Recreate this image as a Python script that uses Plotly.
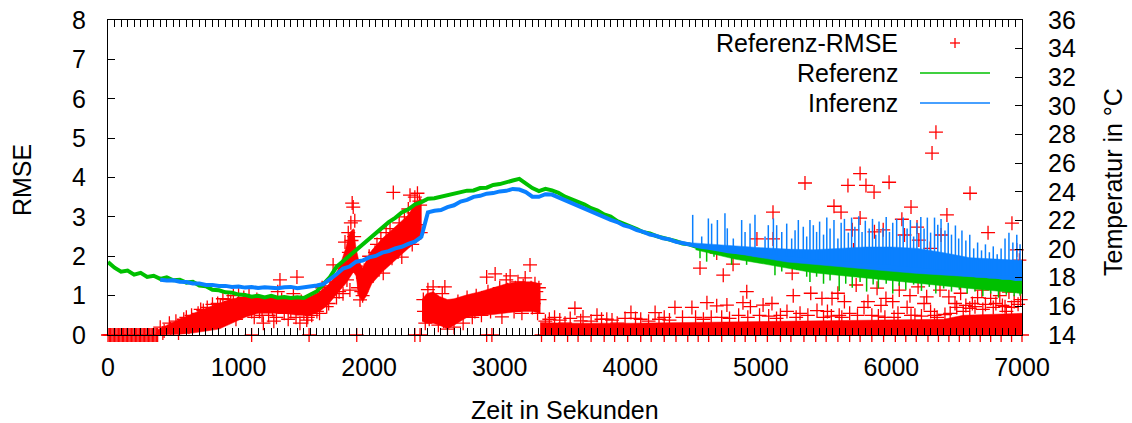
import plotly.graph_objects as go

# ---------------- data ----------------
# Referenz temperature (green), sampled every 50 s, degC
ref_time = list(range(0, 7001, 50))
ref_temp = [19.10, 18.70, 18.42, 18.50, 18.22, 18.34, 18.06, 18.14, 17.92, 18.02,
            17.82, 17.86, 17.66, 17.72, 17.46, 17.40, 17.16, 17.12, 16.98, 16.96,
            16.82, 16.80, 16.68, 16.74, 16.63, 16.74, 16.60, 16.66, 16.58, 16.63,
            16.58, 16.84, 17.06, 17.55, 18.05, 18.76, 19.15, 19.60, 19.98, 20.30,
            20.72, 21.14, 21.46, 21.88, 22.18, 22.56, 22.78, 23.12, 23.28, 23.52,
            23.55, 23.66, 23.74, 23.88, 23.94, 24.08, 24.10, 24.26, 24.29, 24.48,
            24.54, 24.70, 24.79, 24.90, 24.57, 24.26, 24.05, 24.21, 24.10, 23.93,
            23.66, 23.49, 23.25, 23.11, 22.86, 22.69, 22.42, 22.28, 21.96, 21.79,
            21.57, 21.40, 21.18, 21.10, 20.91, 20.80, 20.64, 20.55, 20.39, 20.33,
            20.17, 20.11, 19.95, 19.86, 19.70, 19.67, 19.54, 19.53, 19.37, 19.34,
            19.21, 19.20, 19.07, 19.04, 18.90, 18.90, 18.77, 18.76, 18.66, 18.65,
            18.55, 18.54, 18.44, 18.43, 18.33, 18.35, 18.24, 18.27, 18.16, 18.18,
            18.11, 18.10, 18.00, 18.02, 17.91, 17.91, 17.80, 17.80, 17.69, 17.69,
            17.61, 17.61, 17.50, 17.52, 17.42, 17.41, 17.31, 17.33, 17.23, 17.22,
            17.14]

# Referenz noisy band in the late part (degC)
ref_noise_t = [4500, 4800, 5000, 5400, 5800, 6200, 6600, 7000]
ref_noise_lo = [19.95, 19.30, 19.00, 18.35, 17.95, 17.60, 17.25, 16.90]
ref_noise_hi = [20.30, 19.80, 19.50, 19.00, 18.70, 18.40, 18.10, 17.95]

# Inferenz temperature (blue), sampled every 50 s from 400 s, degC
inf_time = list(range(400, 7001, 50))
inf_temp = [17.86, 17.80, 17.82, 17.72, 17.70, 17.60, 17.60, 17.50, 17.49, 17.42,
            17.43, 17.36, 17.38, 17.31, 17.35, 17.28, 17.33, 17.30, 17.26, 17.34,
            17.36, 17.26, 17.32, 17.36, 17.46, 17.56, 17.88, 18.24, 18.64, 18.78,
            19.12, 19.20, 19.42, 19.52, 19.75, 19.86, 20.05, 20.16, 20.36, 20.52,
            20.85, 22.56, 22.68, 22.73, 22.93, 23.06, 23.32, 23.44, 23.65, 23.72,
            23.87, 23.91, 24.03, 24.07, 24.20, 24.16, 23.98, 23.66, 23.65, 23.83,
            23.81, 23.61, 23.48, 23.22, 23.07, 22.84, 22.66, 22.42, 22.27, 22.04,
            21.89, 21.65, 21.53, 21.32, 21.20, 21.02, 20.92, 20.75, 20.68, 20.50,
            20.43, 20.31, 20.26, 20.14, 20.10, 19.98, 19.93, 19.84, 19.82, 19.73,
            19.71, 19.62, 19.60, 19.51, 19.49, 19.40, 19.38, 19.29, 19.27, 19.18,
            19.16, 19.10, 19.08, 19.01, 19.03, 18.96, 18.97, 18.88, 18.89, 18.82,
            18.81, 18.74, 18.75, 18.66, 18.67, 18.57, 18.59, 18.49, 18.50, 18.41,
            18.42, 18.33, 18.34, 18.24, 18.26, 18.16, 18.17, 18.08, 18.09, 18.00,
            18.01, 17.91, 17.93]

# Inferenz dense (spike-filled) band in the late part (degC)
inf_dense_t = [4450, 4600, 4800, 5000, 5200, 5400, 5600, 5800, 6000, 6200, 6400, 6600, 6800, 7000]
inf_dense_lo = [20.25, 20.00, 19.70, 19.40, 19.10, 18.90, 18.75, 18.60, 18.45, 18.30, 18.15, 18.05, 17.95, 17.85]
inf_dense_hi = [20.45, 20.35, 20.20, 20.10, 20.00, 19.95, 20.05, 20.15, 20.15, 20.05, 19.75, 19.40, 19.30, 19.20]

# Inferenz upward spikes: time, foot, tip (degC)
inf_spike_t = [4478, 4547, 4598, 4623, 4667, 4725, 4743, 4789, 4853, 4879, 4917, 4955,
               5032, 5057, 5096, 5121, 5160, 5198, 5236, 5262, 5287, 5325, 5351, 5376,
               5402, 5427, 5450, 5480, 5505, 5530, 5560, 5590, 5615, 5640, 5670, 5695,
               5720, 5750, 5775, 5800, 5830, 5855, 5880, 5905, 5935, 5960, 5985, 6010,
               6040, 6065, 6090, 6120, 6145, 6170, 6195, 6225, 6250, 6275, 6300, 6330,
               6355, 6380, 6410, 6435, 6460, 6490, 6515, 6540, 6570, 6600, 6630, 6660,
               6690, 6720, 6750, 6780, 6810, 6840, 6870, 6900, 6930, 6960, 6985]
inf_spike_lo = [20.28, 20.16, 20.10, 20.05, 19.98, 19.90, 19.86, 19.82, 19.73, 19.71, 19.66, 19.62,
                19.52, 19.50, 19.49, 19.45, 19.40, 19.38, 19.31, 19.28, 19.27, 19.22, 19.18, 19.17,
                19.16, 19.12, 19.10, 19.09, 19.07, 19.04, 19.02, 19.02, 19.00, 18.97, 18.96, 18.97,
                18.92, 18.88, 18.89, 18.89, 18.85, 18.82, 18.81, 18.80, 18.76, 18.74, 18.75, 18.73,
                18.68, 18.66, 18.67, 18.62, 18.58, 18.58, 18.59, 18.54, 18.49, 18.50, 18.50, 18.45,
                18.41, 18.42, 18.42, 18.37, 18.33, 18.34, 18.29, 18.25, 18.25, 18.26, 18.20, 18.16,
                18.17, 18.12, 18.08, 18.09, 18.05, 18.01, 18.00, 18.01, 17.95, 17.92, 17.92]
inf_spike_hi = [22.39, 20.88, 22.14, 21.78, 22.03, 22.50, 21.45, 20.74, 22.03, 21.20, 21.78, 22.39,
                20.88, 21.67, 22.14, 21.67, 21.20, 21.78, 20.74, 21.32, 22.03, 21.56, 20.88, 22.03,
                21.67, 21.20, 21.92, 21.01, 22.20, 21.43, 22.03, 20.74, 21.84, 22.11, 21.15, 22.20,
                21.56, 22.30, 21.20, 21.98, 21.43, 22.11, 21.01, 21.92, 21.48, 22.25, 21.20, 21.84,
                22.11, 21.01, 22.20, 21.43, 22.03, 20.88, 21.84, 22.25, 21.43, 22.20, 21.15, 22.20,
                21.70, 22.11, 21.29, 21.84, 21.01, 21.65, 20.74, 21.29, 20.60, 21.01, 20.05, 20.46,
                19.91, 20.33, 19.78, 20.19, 19.64, 20.05, 20.74, 21.15, 20.46, 21.01, 20.33]

# Referenz downward spikes: time, top, tip (degC)
ref_spike_t = [4534, 4585, 4641, 4776, 4891, 4968, 5108, 5160, 5198, 5275, 5351, 5376, 5427,
               5480, 5530, 5600, 5650, 5700, 5760, 5810, 5860, 5900, 5960, 6010, 6060, 6110,
               6170, 6230, 6290, 6340, 6400, 6460, 6520, 6580, 6640, 6700, 6760, 6820, 6880,
               6940, 6985]
ref_spike_hi = [20.12, 19.99, 19.87, 19.62, 19.40, 19.29, 19.07, 19.00, 18.92, 18.85, 18.76, 18.72, 18.66,
                18.60, 18.55, 18.45, 18.42, 18.34, 18.30, 18.25, 18.25, 18.17, 18.15, 18.11, 18.08, 18.01,
                17.98, 17.91, 17.82, 17.79, 17.70, 17.67, 17.61, 17.56, 17.51, 17.42, 17.38, 17.32, 17.28,
                17.22, 17.16]
ref_spike_lo = [19.36, 19.12, 19.47, 18.90, 18.90, 19.12, 18.18, 18.43, 18.76, 18.54, 18.07, 17.71, 18.07,
                17.58, 17.80, 17.08, 17.58, 17.30, 17.71, 17.03, 17.52, 17.25, 17.58, 16.89, 17.44, 17.16,
                17.52, 17.08, 17.36, 16.89, 17.25, 17.03, 17.16, 16.89, 17.03, 16.70, 16.89, 16.61, 16.81,
                16.70, 16.75]

# Referenz-RMSE: dense cloud envelopes (three segments)
cloud1_t = [375, 450, 550, 650, 750, 850, 950, 1050, 1150, 1250, 1350, 1450, 1550, 1620, 1680,
            1730, 1780, 1820, 1850, 1880, 1900, 1920, 1950, 1980, 2020, 2100, 2200, 2300, 2360, 2400]
cloud1_lo = [0.0, 0.0, 0.02, 0.05, 0.10, 0.15, 0.30, 0.45, 0.55, 0.55, 0.55, 0.50, 0.50, 0.60, 0.75,
             0.95, 1.15, 1.30, 1.45, 1.60, 1.50, 1.00, 0.85, 1.00, 1.30, 1.60, 1.90, 2.20, 2.35, 2.45]
cloud1_hi = [0.12, 0.25, 0.40, 0.55, 0.68, 0.80, 0.92, 0.97, 0.98, 0.97, 0.98, 0.97, 0.98, 1.10, 1.25,
             1.45, 1.80, 2.20, 2.60, 2.70, 2.20, 1.90, 1.70, 1.90, 2.15, 2.45, 2.75, 3.05, 3.40, 3.45]
cloud2_t = [2405, 2440, 2490, 2540, 2600, 2650, 2750, 2850, 2950, 3050, 3150, 3250, 3310]
cloud2_lo = [0.35, 0.30, 0.30, 0.25, 0.15, 0.25, 0.45, 0.50, 0.52, 0.56, 0.60, 0.60, 0.55]
cloud2_hi = [0.90, 1.05, 1.10, 0.98, 0.90, 0.92, 1.02, 1.10, 1.20, 1.30, 1.35, 1.35, 1.30]
cloud3_t = [3310, 3500, 4000, 4500, 5000, 5500, 6000, 6400, 6550, 7000]
cloud3_lo = [0.0, 0.0, 0.0, 0.0, 0.0, 0.0, 0.0, 0.0, 0.0, 0.0]
cloud3_hi = [0.32, 0.30, 0.30, 0.32, 0.35, 0.36, 0.38, 0.40, 0.50, 0.55]

# Referenz-RMSE: individual points
rmse_t = [400, 430, 470, 520, 560, 600, 640, 690, 730, 760, 800, 840, 880, 920, 960, 1000, 1040, 1080,
          1120, 1160, 1190, 1230, 1270, 1300, 1317, 1350, 1380, 1420, 1447, 1470, 1500, 1522, 1560, 1600,
          1640, 1675, 1700, 1724, 1750, 1780, 1800, 1815, 1840, 1853, 1860, 1870, 1878, 1890, 1905, 1930,
          1950, 1960, 1985, 2000, 2030, 2060, 2090, 2108, 2130, 2160, 2185, 2200, 2230, 2250, 2270, 2300,
          2313, 2330, 2350, 2370, 2385, 2395,
          420, 480, 540, 580, 620, 660, 710, 770, 820, 860, 900, 940, 980, 1020, 1060, 1100, 1140, 1180,
          1210, 1260, 1290, 1330, 1400, 1440, 1480, 1530, 1580, 1620, 1660, 1690, 1740, 1770, 1790, 1830,
          1845, 1865, 1885, 1900, 1915, 1940, 1970, 2010, 2045, 2075, 2120, 2150, 2175, 2210, 2240, 2280,
          2320, 2340, 2360, 2390,
          2415, 2430, 2450, 2470, 2490, 2510, 2530, 2560, 2580, 2600, 2620, 2650, 2680, 2720, 2750, 2790,
          2820, 2860, 2900, 2930, 2965, 3000, 3017, 3050, 3080, 3110, 3140, 3170, 3195, 3232, 3250, 3270,
          3290, 3300,
          2420, 2460, 2500, 2540, 2570, 2610, 2640, 2700, 2740, 2780, 2810, 2840, 2880, 2910, 2950, 2980,
          3030, 3060, 3090, 3120, 3160, 3180, 3210, 3240, 3260, 3280, 3305,
          3350, 3380, 3420, 3460, 3500, 3540, 3576, 3620, 3638, 3700, 3745, 3780, 3820, 3860, 3900, 3960,
          4005, 4040, 4080, 4140, 4190, 4220, 4260, 4300, 4342, 4400, 4472, 4500, 4534, 4560, 4587, 4620,
          4662, 4662, 4700, 4712, 4740, 4760, 4787, 4830, 4863, 4892, 4900, 4920, 4970, 4990, 5017, 5060,
          5085, 5093, 5093, 5120, 5150, 5200, 5240, 5248, 5270, 5300, 5338, 5360, 5382, 5400, 5430, 5468,
          5480, 5510, 5540, 5545, 5560, 5590, 5600, 5614, 5620, 5640, 5667, 5680, 5700, 5710, 5730, 5740,
          5760, 5760, 5790, 5805, 5820, 5850, 5867, 5870, 5890, 5900, 5920, 5937, 5950, 5958, 5982, 6000,
          6010, 6020, 6050, 6060, 6080, 6100, 6120, 6142, 6150, 6150, 6180, 6196, 6204, 6210, 6230, 6250,
          6270, 6297, 6300, 6311, 6330, 6341, 6350, 6372, 6380, 6400, 6410, 6425, 6440, 6450, 6487, 6500,
          6530, 6550, 6570, 6600, 6602, 6620, 6640, 6660, 6693, 6700, 6720, 6740, 6760, 6780, 6800, 6830,
          6850, 6870, 6880, 6900, 6920, 6923, 6940, 6960, 6970, 6980, 6990]
rmse_v = [0.20, 0.10, 0.30, 0.35, 0.28, 0.45, 0.50, 0.55, 0.62, 0.70, 0.78, 0.80, 0.92, 0.90, 1.00, 1.05, 0.95, 1.00,
          0.45, 0.60, 0.30, 0.50, 0.35, 1.10, 1.40, 0.55, 0.40, 1.05, 1.47, 0.30, 0.55, 0.38, 0.50, 0.60,
          1.20, 0.72, 1.25, 1.78, 0.95, 1.50, 1.05, 2.36, 2.60, 1.14, 2.85, 3.35, 3.25, 2.90, 1.60, 0.89,
          1.00, 1.40, 1.75, 2.00, 1.50, 2.30, 2.45, 1.57, 2.60, 2.70, 3.62, 2.10, 2.85, 1.98, 3.00, 3.20,
          3.55, 2.30, 3.50, 3.60, 3.40, 2.60,
          0.05, 0.15, 0.05, 0.40, 0.20, 0.30, 0.65, 0.30, 0.50, 0.75, 0.55, 0.85, 0.40, 0.65, 0.85, 0.60, 0.90, 0.50,
          0.80, 0.65, 0.45, 0.90, 0.60, 0.45, 0.85, 0.45, 0.85, 0.55, 1.10, 0.80, 1.35, 1.10, 1.70, 1.40,
          2.10, 2.40, 2.50, 1.90, 1.20, 1.10, 1.60, 1.80, 2.10, 1.70, 2.00, 2.30, 1.95, 2.50, 2.30, 2.70,
          2.60, 3.10, 2.80, 3.30,
          0.90, 0.30, 1.15, 0.50, 1.22, 0.85, 0.25, 1.05, 1.22, 0.15, 0.70, 0.20, 0.85, 0.30, 0.95, 0.45,
          1.00, 0.50, 1.47, 0.60, 1.55, 1.20, 0.46, 1.40, 1.50, 0.60, 1.35, 0.55, 1.45, 1.78, 0.70, 1.30,
          0.55, 1.20,
          0.60, 0.40, 0.70, 0.60, 0.35, 0.50, 0.60, 0.55, 0.70, 0.85, 0.60, 0.90, 0.75, 1.10, 0.85, 1.00,
          0.75, 1.15, 0.90, 1.20, 0.85, 1.25, 0.95, 1.20, 0.80, 1.10, 0.90,
          0.35, 0.40, 0.45, 0.38, 0.30, 0.42, 0.68, 0.36, 0.46, 0.35, 0.50, 0.40, 0.40, 0.38, 0.30, 0.42,
          0.57, 0.42, 0.40, 0.35, 0.57, 0.40, 0.45, 0.38, 0.70, 0.45, 0.70, 0.45, 1.70, 0.40, 0.82, 0.45,
          0.74, 2.08, 0.45, 1.52, 0.76, 0.42, 1.80, 0.50, 0.82, 1.10, 0.45, 0.72, 2.44, 0.50, 0.76, 0.48,
          0.80, 3.12, 2.44, 0.42, 0.50, 0.60, 1.57, 1.00, 0.45, 0.55, 3.86, 0.50, 1.06, 1.78, 0.62, 0.93,
          0.45, 0.60, 0.48, 0.93, 3.27, 1.06, 0.50, 3.12, 0.45, 0.85, 3.80, 0.55, 2.67, 2.16, 1.27, 0.50,
          4.10, 2.97, 0.70, 3.80, 0.85, 0.50, 3.63, 2.62, 1.19, 0.48, 0.75, 2.67, 0.45, 0.93, 3.88, 2.03,
          0.85, 0.45, 0.55, 1.14, 2.94, 2.54, 0.70, 1.00, 3.25, 0.50, 0.50, 2.74, 1.22, 2.41, 0.48, 0.80,
          0.97, 2.20, 0.60, 4.62, 0.50, 5.15, 0.45, 1.14, 2.54, 1.73, 0.52, 3.05, 0.97, 0.55, 0.80, 0.70,
          1.06, 0.60, 0.75, 0.68, 3.60, 0.80, 0.72, 0.95, 1.14, 0.65, 0.78, 2.60, 0.93, 0.70, 0.80, 1.00,
          0.75, 0.72, 0.60, 1.09, 0.70, 2.84, 0.85, 2.16, 0.78, 1.90, 0.90]

# Referenz-RMSE points lying on zero
rmse_zero_t = [0, 10, 20, 30, 40, 50, 60, 70, 80, 90, 100, 110, 120, 130, 140, 150, 160, 170, 180, 190,
               200, 210, 220, 230, 240, 250, 260, 270, 280, 290, 300, 310, 320, 330, 340, 350, 360, 370, 380,
               1100, 1540, 1905, 2350, 2390, 2900, 2940,
               3320, 3420, 3520, 3600, 3700, 3800, 3880, 3980, 4080, 4160, 4260, 4350, 4440, 4520,
               4600, 4700, 4800, 4880, 4960, 5050, 5150, 5230, 5330, 5420, 5500, 5590, 5680, 5760,
               5850, 5940, 6030, 6110, 6190, 6280, 6360, 6440, 6520, 6600, 6680, 6760, 6840, 6920, 7000]
rmse_zero_v = [0, 0, 0, 0, 0, 0, 0, 0, 0, 0, 0, 0, 0, 0, 0, 0, 0, 0, 0, 0,
               0, 0, 0, 0, 0, 0, 0, 0, 0, 0, 0, 0, 0, 0, 0, 0, 0, 0, 0,
               0, 0, 0, 0, 0, 0, 0,
               0, 0, 0, 0, 0, 0, 0, 0, 0, 0, 0, 0, 0, 0,
               0, 0, 0, 0, 0, 0, 0, 0, 0, 0, 0, 0, 0, 0,
               0, 0, 0, 0, 0, 0, 0, 0, 0, 0, 0, 0, 0, 0, 0]

x_ticks = [0, 1000, 2000, 3000, 4000, 5000, 6000, 7000]
y_ticks = [0, 1, 2, 3, 4, 5, 6, 7, 8]
y2_ticks = [14, 16, 18, 20, 22, 24, 26, 28, 30, 32, 34, 36]

RED = "#ff0000"
GREEN = "#00c000"
BLUE = "#0a80ff"
FONT = "Liberation Sans, Arial, Helvetica, sans-serif"

# ---------------- figure ----------------
fig = go.Figure()


def band(t, lo, hi):
    return list(t) + list(t)[::-1], list(hi) + list(lo)[::-1]


def spikes(t, a, b):
    xs, ys = [], []
    for ti, ai, bi in zip(t, a, b):
        xs += [ti, ti, None]
        ys += [ai, bi, None]
    return xs, ys


for ct, clo, chi in [(cloud1_t, cloud1_lo, cloud1_hi),
                     (cloud2_t, cloud2_lo, cloud2_hi),
                     (cloud3_t, cloud3_lo, cloud3_hi)]:
    bx, by = band(ct, clo, chi)
    fig.add_trace(go.Scatter(x=bx, y=by, fill="toself", fillcolor=RED, mode="lines",
                             line=dict(width=0.5, color=RED), hoverinfo="skip",
                             showlegend=False, yaxis="y"))

cross = dict(symbol="cross-thin", size=10, color=RED, line=dict(color=RED, width=1.3))
fig.add_trace(go.Scatter(x=rmse_t, y=rmse_v, mode="markers", marker=cross,
                         name="Referenz-RMSE", showlegend=False, yaxis="y", cliponaxis=False))
fig.add_trace(go.Scatter(x=rmse_zero_t, y=rmse_zero_v, mode="markers", marker=cross,
                         showlegend=False, yaxis="y", cliponaxis=False))

# Referenz (green)
bx, by = band(ref_noise_t, ref_noise_lo, ref_noise_hi)
fig.add_trace(go.Scatter(x=bx, y=by, fill="toself", fillcolor=GREEN, mode="lines",
                         line=dict(width=0.5, color=GREEN), hoverinfo="skip",
                         showlegend=False, yaxis="y2"))
sx, sy = spikes(ref_spike_t, ref_spike_hi, ref_spike_lo)
fig.add_trace(go.Scatter(x=sx, y=sy, mode="lines", line=dict(color=GREEN, width=1.5),
                         showlegend=False, yaxis="y2", hoverinfo="skip"))
fig.add_trace(go.Scatter(x=ref_time, y=ref_temp, mode="lines", line=dict(color=GREEN, width=4),
                         name="Referenz", showlegend=False, yaxis="y2"))

# Inferenz (blue)
bx, by = band(inf_dense_t, inf_dense_lo, inf_dense_hi)
fig.add_trace(go.Scatter(x=bx, y=by, fill="toself", fillcolor=BLUE, mode="lines",
                         line=dict(width=0.5, color=BLUE), hoverinfo="skip",
                         showlegend=False, yaxis="y2"))
sx, sy = spikes(inf_spike_t, inf_spike_lo, inf_spike_hi)
fig.add_trace(go.Scatter(x=sx, y=sy, mode="lines", line=dict(color=BLUE, width=1.5),
                         showlegend=False, yaxis="y2", hoverinfo="skip"))
fig.add_trace(go.Scatter(x=inf_time, y=inf_temp, mode="lines", line=dict(color=BLUE, width=4),
                         name="Inferenz", showlegend=False, yaxis="y2"))

axis_common = dict(showgrid=False, zeroline=False, showline=True, linecolor="black", linewidth=1,
                   ticks="inside", ticklen=7, tickcolor="black", tickwidth=1,
                   tickfont=dict(family=FONT, size=25, color="black"))

fig.update_layout(
    width=1132, height=423,
    margin=dict(l=108, r=110, t=20, b=88, autoexpand=False),
    paper_bgcolor="white", plot_bgcolor="white",
    showlegend=False,
    font=dict(family=FONT, size=25, color="black"),
    xaxis=dict(range=[0, 7000], tickvals=x_ticks, mirror="allticks", ticklabelstandoff=10,
               minor=dict(dtick=50, ticklen=3, ticks="inside", tickcolor="black"),
               **axis_common),
    yaxis=dict(range=[0, 8], tickvals=y_ticks, mirror=True, ticklabelstandoff=16, **axis_common),
    yaxis2=dict(range=[14, 36], tickvals=y2_ticks, overlaying="y", side="right",
                ticklabelstandoff=20, **axis_common),
)

# axis titles
fig.add_annotation(text="RMSE", xref="paper", yref="paper", x=-0.094, y=0.492, textangle=-90,
                   showarrow=False, font=dict(family=FONT, size=25, color="black"),
                   xanchor="center", yanchor="middle")
fig.add_annotation(text="Temperatur in °C", xref="paper", yref="paper", x=1.0996, y=0.486,
                   textangle=-90, showarrow=False, font=dict(family=FONT, size=25, color="black"),
                   xanchor="center", yanchor="middle")
fig.add_annotation(text="Zeit in Sekunden", xref="paper", yref="paper", x=0.5, y=-0.238,
                   showarrow=False, font=dict(family=FONT, size=25, color="black"),
                   xanchor="center", yanchor="middle")

# legend (gnuplot style: text right-aligned, key sample on the right)
legend_items = [("Referenz-RMSE", 0.927), ("Referenz", 0.8317), ("Inferenz", 0.7365)]
for label, ly in legend_items:
    fig.add_annotation(text=label, xref="paper", yref="paper", x=0.8665, y=ly, showarrow=False,
                       font=dict(family=FONT, size=25, color="black"),
                       xanchor="right", yanchor="middle")
fig.add_shape(type="line", xref="paper", yref="paper", x0=0.9212, x1=0.9322, y0=0.927, y1=0.927,
              line=dict(color=RED, width=1.3))
fig.add_shape(type="line", xref="paper", yref="paper", x0=0.9267, x1=0.9267, y0=0.9429, y1=0.9111,
              line=dict(color=RED, width=1.3))
fig.add_shape(type="line", xref="paper", yref="paper", x0=0.8884, x1=0.9650, y0=0.8317, y1=0.8317,
              line=dict(color=GREEN, width=1.5))
fig.add_shape(type="line", xref="paper", yref="paper", x0=0.8884, x1=0.9650, y0=0.7365, y1=0.7365,
              line=dict(color=BLUE, width=1.5))

fig.write_html("out.html")
